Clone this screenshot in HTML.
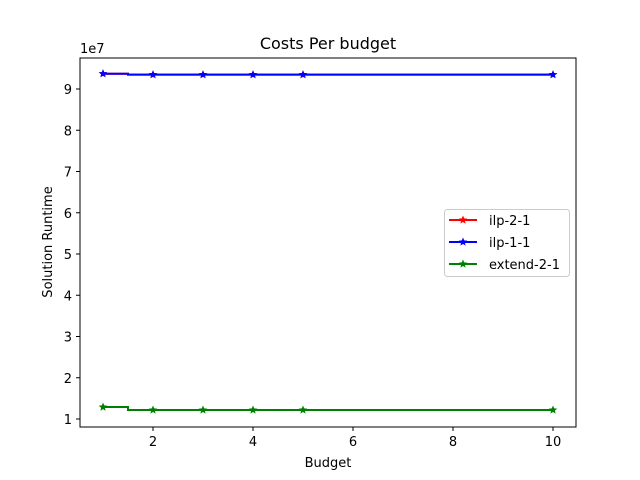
<!DOCTYPE html>
<html><head><meta charset="utf-8"><style>
body{margin:0;background:#fff}
svg{display:block;font-family:"DejaVu Sans","Liberation Sans",sans-serif}
</style></head><body>
<svg id="chart" width="640" height="480">
<rect width="640" height="480" fill="#fff"/>
<text x="328" y="49" font-size="16" text-anchor="middle">Costs Per budget</text>
<text x="328" y="467" font-size="13" text-anchor="middle">Budget</text>
<text x="0" y="0" font-size="13" text-anchor="middle" transform="translate(52,242) rotate(-90)">Solution Runtime</text>
<text x="80" y="53" font-size="13">1e7</text>
<g id="axes"></g><g id="series"></g>
<rect x="80" y="58" width="496" height="369" fill="none" stroke="#000" stroke-width="1"/>
<g id="legend"></g>
</svg>
<script>
const budgets=[1,2,3,4,5,10];
const ilp21=[9.371,9.347,9.347,9.347,9.347,9.347];
const ilp11=[9.371,9.347,9.347,9.347,9.347,9.347];
const extend21=[1.29,1.218,1.218,1.218,1.218,1.218];
const seriesNames=["ilp-2-1","ilp-1-1","extend-2-1"];
const xTicks=[2,4,6,8,10];
const yTicks=[1,2,3,4,5,6,7,8,9];
const NS="http://www.w3.org/2000/svg";
const xs=v=>103+(v-1)*50;
const ys=v=>419-(v-1)*41.25;
function mk(t,a,p){const e=document.createElementNS(NS,t);for(const k in a)e.setAttribute(k,a[k]);p.appendChild(e);return e;}
const ax=document.getElementById('axes');
xTicks.forEach(v=>{
  const l=mk('line',{x1:xs(v),x2:xs(v),y1:427,y2:431,stroke:'#000'},ax);
  
  
  const t=mk('text',{x:xs(v),y:446,'font-size':13,'text-anchor':'middle'},ax);t.textContent=v;
  
  
});
yTicks.forEach(v=>{
  const l=mk('line',{x1:76,x2:80,y1:ys(v),y2:ys(v),stroke:'#000'},ax);
  
  
  const t=mk('text',{x:72,y:ys(v)+5,'font-size':13,'text-anchor':'end'},ax);t.textContent=v;
  
  
});
function star(cx,cy,r){let p=[];for(let i=0;i<10;i++){const a=-Math.PI/2+i*Math.PI/5;const rr=i%2?r*0.45:r;p.push((cx+rr*Math.cos(a)).toFixed(1)+','+(cy+rr*Math.sin(a)).toFixed(1));}return p.join(' ');}
const sg=document.getElementById('series');
const data=[ilp21,ilp11,extend21];const cols=['#ff0000','#0000ff','#008000'];
data.forEach((vals,si)=>{
  let d='M'+xs(budgets[0])+','+ys(vals[0]);
  for(let i=1;i<budgets.length;i++){const m=xs((budgets[i-1]+budgets[i])/2);d+=' H'+m+' V'+ys(vals[i])+' H'+xs(budgets[i]);}
  const p=mk('path',{d:d,fill:'none',stroke:cols[si],'stroke-width':2},sg);
  
  
  budgets.forEach((b,i)=>{
    const s=mk('polygon',{points:star(xs(b),ys(vals[i]),4.5),fill:cols[si]},sg);
    
    
  });
});
const lg=document.getElementById('legend');
const box=mk('rect',{x:444.5,y:209.5,width:125,height:67,rx:3,fill:'#fff',stroke:'#ccc'},lg);


seriesNames.forEach((n,i)=>{
  const y=220+i*22;
  const g=mk('g',{},lg);
  
  
  mk('line',{x1:449,x2:477,y1:y,y2:y,stroke:cols[i],'stroke-width':2},g);
  mk('polygon',{points:star(463,y,4.5),fill:cols[i]},g);
  const t=mk('text',{x:489,y:y+5,'font-size':13},g);t.textContent=n;
});
</script>
</body></html>
